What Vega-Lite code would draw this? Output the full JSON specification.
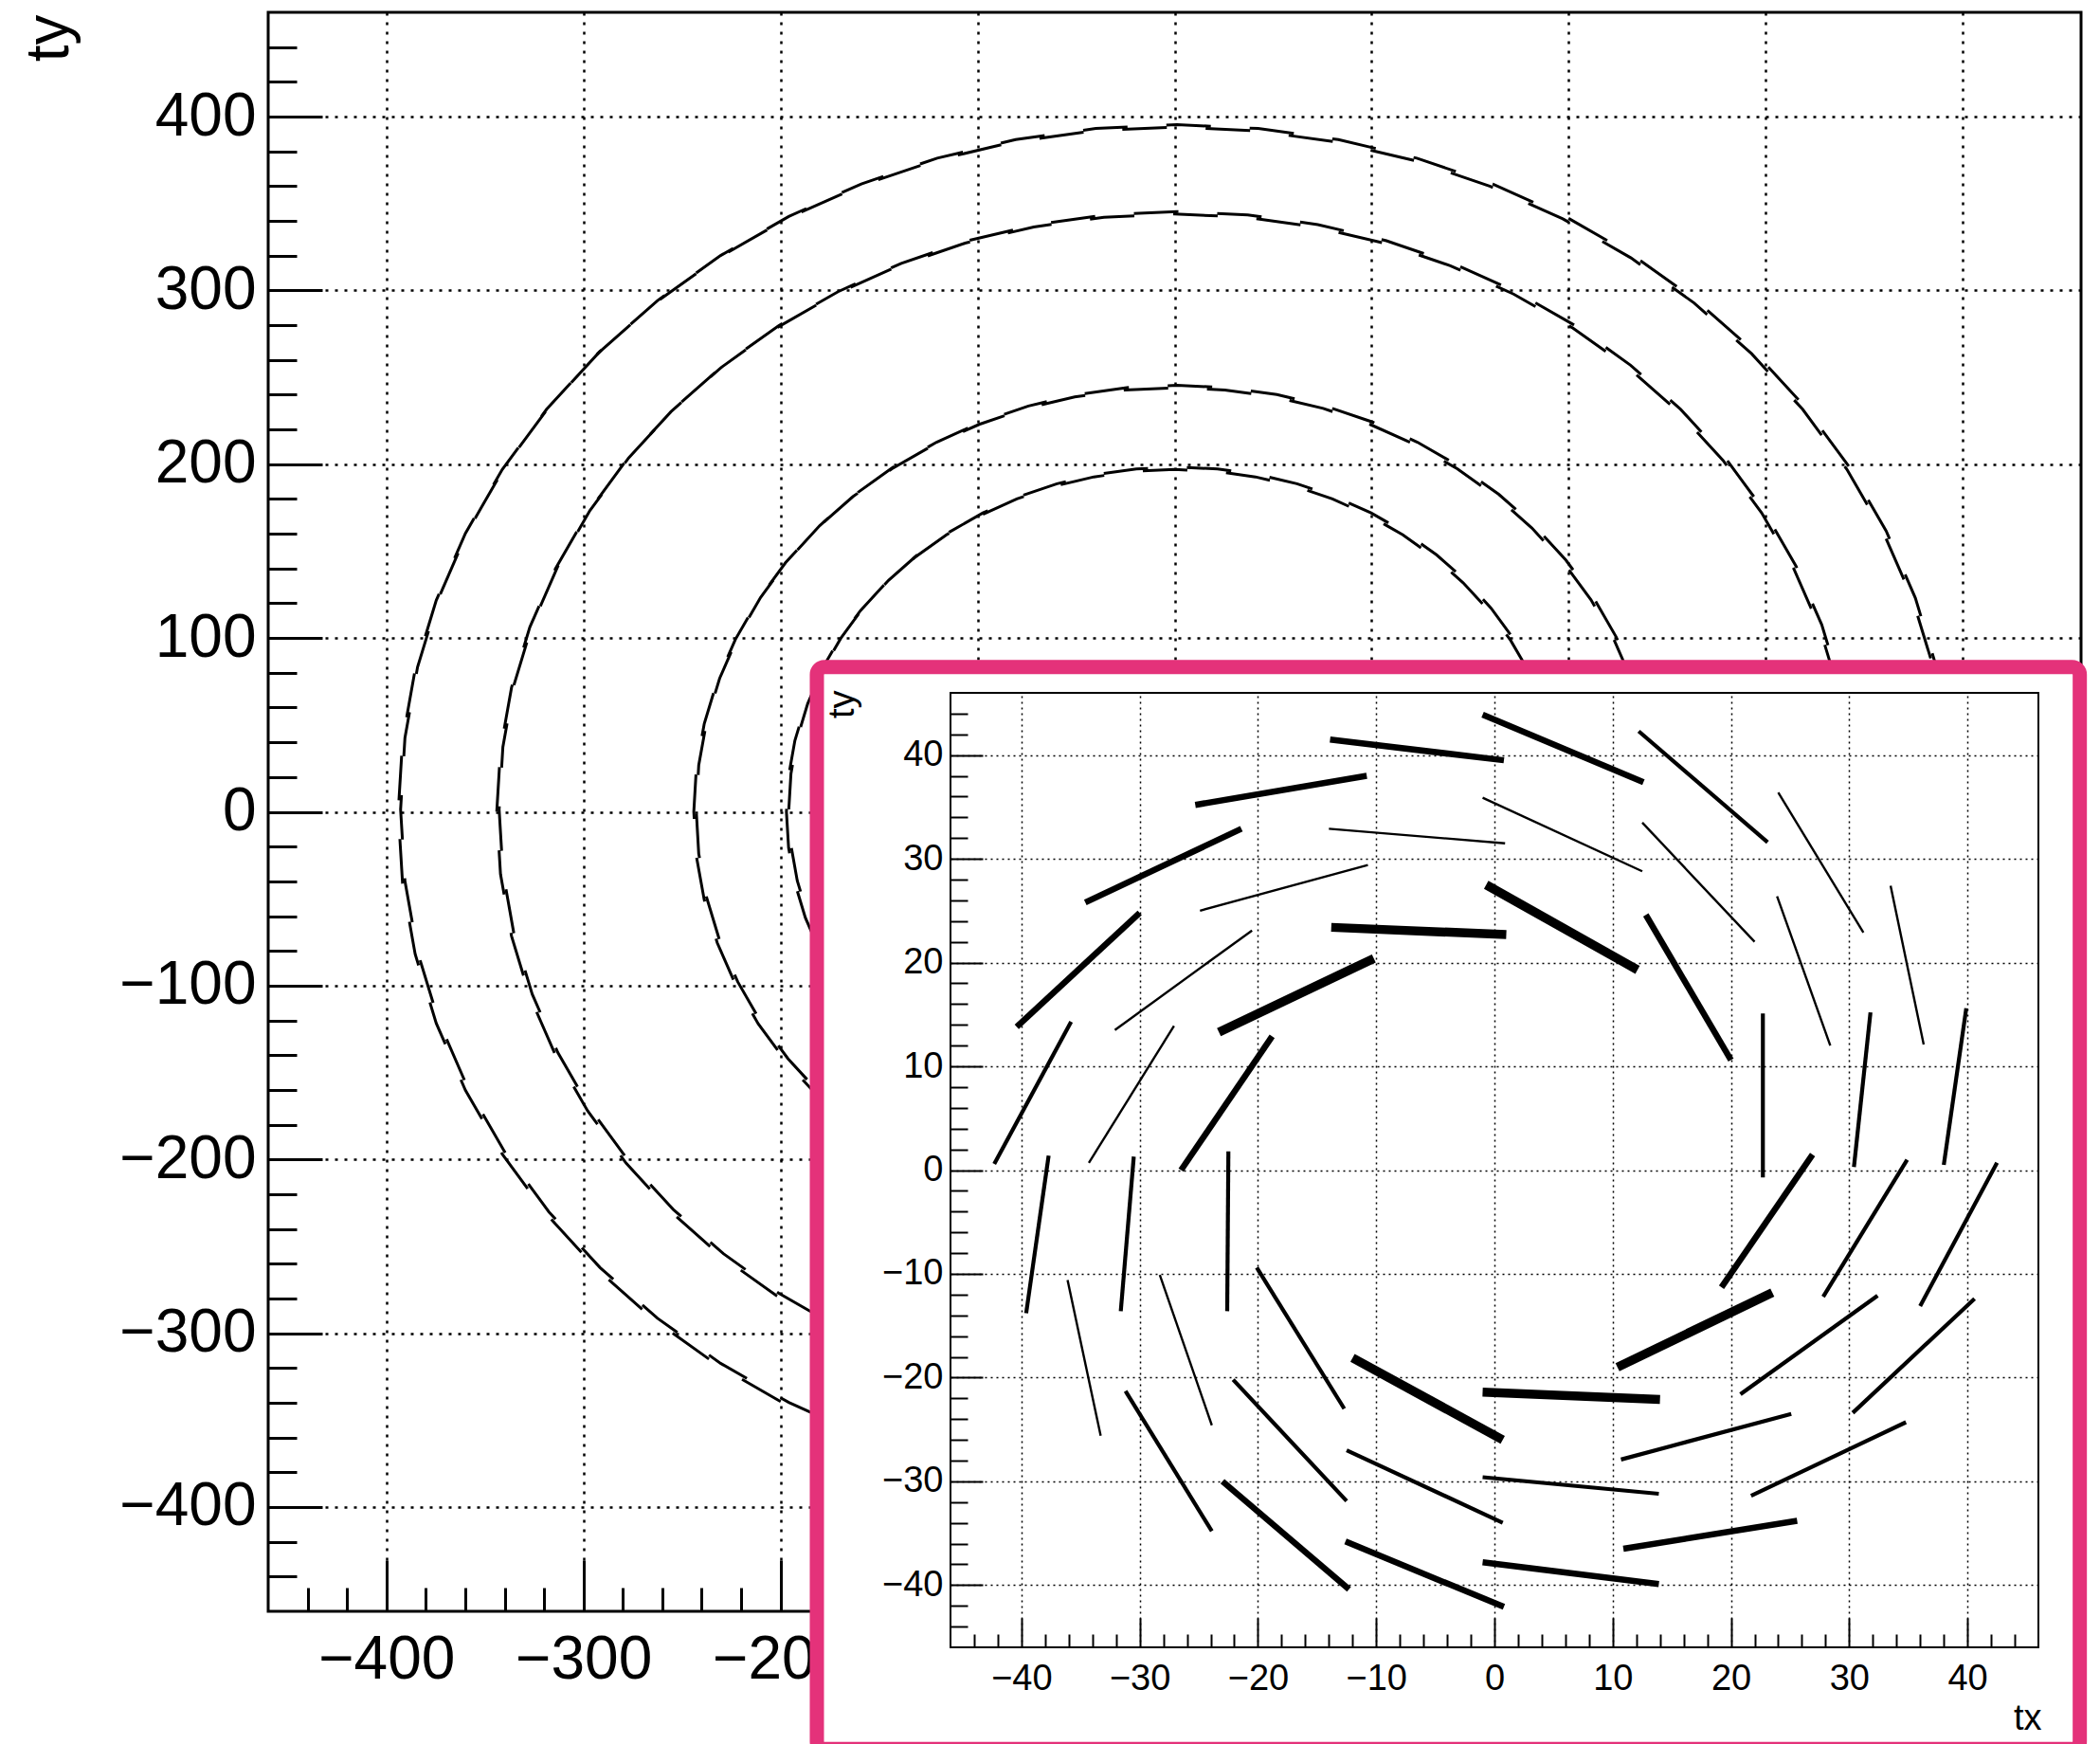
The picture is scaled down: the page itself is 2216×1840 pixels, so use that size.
{
  "$schema": "https://vega.github.io/schema/vega-lite/v6.json",
  "width": 1913,
  "height": 1687,
  "autosize": "none",
  "padding": {"left": 283, "top": 13, "right": 20, "bottom": 140},
  "background": "white",
  "config": {
    "view": {"stroke": "black", "strokeWidth": 3},
    "font": "Liberation Sans, Arial, Helvetica, sans-serif",
    "axis": {"domain": false, "labelColor": "black", "titleColor": "black", "tickColor": "black", "gridColor": "black", "labelOverlap": false, "labelFlush": false, "labelFont": "Liberation Sans, Arial, Helvetica, sans-serif", "titleFont": "Liberation Sans, Arial, Helvetica, sans-serif", "titleFontWeight": "normal"}
  },
  "datasets": {
    "rings": [
      {"ring": 1, "deg": 6, "x": 391.8, "y": 41.2}, {"ring": 1, "deg": 12, "x": 385.4, "y": 81.9}, {"ring": 1, "deg": 18, "x": 374.7, "y": 121.7}, {"ring": 1, "deg": 24, "x": 359.9, "y": 160.2}, {"ring": 1, "deg": 30, "x": 341.2, "y": 197.0}, {"ring": 1, "deg": 36, "x": 318.7, "y": 231.6}, {"ring": 1, "deg": 42, "x": 292.8, "y": 263.6}, {"ring": 1, "deg": 48, "x": 263.6, "y": 292.8}, {"ring": 1, "deg": 54, "x": 231.6, "y": 318.7}, {"ring": 1, "deg": 60, "x": 197.0, "y": 341.2}, {"ring": 1, "deg": 66, "x": 160.2, "y": 359.9}, {"ring": 1, "deg": 72, "x": 121.7, "y": 374.7}, {"ring": 1, "deg": 78, "x": 81.9, "y": 385.4}, {"ring": 1, "deg": 84, "x": 41.2, "y": 391.8}, {"ring": 1, "deg": 90, "x": 0, "y": 394}, {"ring": 1, "deg": 96, "x": -41.2, "y": 391.8}, {"ring": 1, "deg": 102, "x": -81.9, "y": 385.4}, {"ring": 1, "deg": 108, "x": -121.7, "y": 374.7}, {"ring": 1, "deg": 114, "x": -160.2, "y": 359.9}, {"ring": 1, "deg": 120, "x": -197.0, "y": 341.2}, {"ring": 1, "deg": 126, "x": -231.6, "y": 318.7}, {"ring": 1, "deg": 132, "x": -263.6, "y": 292.8}, {"ring": 1, "deg": 138, "x": -292.8, "y": 263.6}, {"ring": 1, "deg": 144, "x": -318.7, "y": 231.6}, {"ring": 1, "deg": 150, "x": -341.2, "y": 197.0}, {"ring": 1, "deg": 156, "x": -359.9, "y": 160.2}, {"ring": 1, "deg": 162, "x": -374.7, "y": 121.7}, {"ring": 1, "deg": 168, "x": -385.4, "y": 81.9}, {"ring": 1, "deg": 174, "x": -391.8, "y": 41.2}, {"ring": 1, "deg": 180, "x": -394, "y": 0}, {"ring": 1, "deg": 186, "x": -391.8, "y": -41.2}, {"ring": 1, "deg": 192, "x": -385.4, "y": -81.9}, {"ring": 1, "deg": 198, "x": -374.7, "y": -121.7}, {"ring": 1, "deg": 204, "x": -359.9, "y": -160.2}, {"ring": 1, "deg": 210, "x": -341.2, "y": -197.0}, {"ring": 1, "deg": 216, "x": -318.7, "y": -231.6}, {"ring": 1, "deg": 222, "x": -292.8, "y": -263.6}, {"ring": 1, "deg": 228, "x": -263.6, "y": -292.8}, {"ring": 1, "deg": 234, "x": -231.6, "y": -318.7}, {"ring": 1, "deg": 240, "x": -197.0, "y": -341.2}, {"ring": 1, "deg": 246, "x": -160.2, "y": -359.9}, {"ring": 1, "deg": 252, "x": -121.7, "y": -374.7},
      {"ring": 2, "deg": 12, "x": 336.5, "y": 71.5}, {"ring": 2, "deg": 18, "x": 327.2, "y": 106.3}, {"ring": 2, "deg": 24, "x": 314.2, "y": 139.9}, {"ring": 2, "deg": 30, "x": 297.9, "y": 172.0}, {"ring": 2, "deg": 36, "x": 278.3, "y": 202.2}, {"ring": 2, "deg": 42, "x": 255.6, "y": 230.2}, {"ring": 2, "deg": 48, "x": 230.2, "y": 255.6}, {"ring": 2, "deg": 54, "x": 202.2, "y": 278.3}, {"ring": 2, "deg": 60, "x": 172.0, "y": 297.9}, {"ring": 2, "deg": 66, "x": 139.9, "y": 314.2}, {"ring": 2, "deg": 72, "x": 106.3, "y": 327.2}, {"ring": 2, "deg": 78, "x": 71.5, "y": 336.5}, {"ring": 2, "deg": 84, "x": 35.9, "y": 342.1}, {"ring": 2, "deg": 90, "x": 0, "y": 344}, {"ring": 2, "deg": 96, "x": -35.9, "y": 342.1}, {"ring": 2, "deg": 102, "x": -71.5, "y": 336.5}, {"ring": 2, "deg": 108, "x": -106.3, "y": 327.2}, {"ring": 2, "deg": 114, "x": -139.9, "y": 314.2}, {"ring": 2, "deg": 120, "x": -172.0, "y": 297.9}, {"ring": 2, "deg": 126, "x": -202.2, "y": 278.3}, {"ring": 2, "deg": 132, "x": -230.2, "y": 255.6}, {"ring": 2, "deg": 138, "x": -255.6, "y": 230.2}, {"ring": 2, "deg": 144, "x": -278.3, "y": 202.2}, {"ring": 2, "deg": 150, "x": -297.9, "y": 172.0}, {"ring": 2, "deg": 156, "x": -314.2, "y": 139.9}, {"ring": 2, "deg": 162, "x": -327.2, "y": 106.3}, {"ring": 2, "deg": 168, "x": -336.5, "y": 71.5}, {"ring": 2, "deg": 174, "x": -342.1, "y": 35.9}, {"ring": 2, "deg": 180, "x": -344, "y": 0}, {"ring": 2, "deg": 186, "x": -342.1, "y": -35.9}, {"ring": 2, "deg": 192, "x": -336.5, "y": -71.5}, {"ring": 2, "deg": 198, "x": -327.2, "y": -106.3}, {"ring": 2, "deg": 204, "x": -314.2, "y": -139.9}, {"ring": 2, "deg": 210, "x": -297.9, "y": -172.0}, {"ring": 2, "deg": 216, "x": -278.3, "y": -202.2}, {"ring": 2, "deg": 222, "x": -255.6, "y": -230.2}, {"ring": 2, "deg": 228, "x": -230.2, "y": -255.6}, {"ring": 2, "deg": 234, "x": -202.2, "y": -278.3}, {"ring": 2, "deg": 240, "x": -172.0, "y": -297.9}, {"ring": 2, "deg": 246, "x": -139.9, "y": -314.2},
      {"ring": 3, "deg": 18, "x": 232.1, "y": 75.4}, {"ring": 3, "deg": 24, "x": 222.9, "y": 99.2}, {"ring": 3, "deg": 30, "x": 211.3, "y": 122.0}, {"ring": 3, "deg": 36, "x": 197.4, "y": 143.4}, {"ring": 3, "deg": 42, "x": 181.3, "y": 163.3}, {"ring": 3, "deg": 48, "x": 163.3, "y": 181.3}, {"ring": 3, "deg": 54, "x": 143.4, "y": 197.4}, {"ring": 3, "deg": 60, "x": 122.0, "y": 211.3}, {"ring": 3, "deg": 66, "x": 99.2, "y": 222.9}, {"ring": 3, "deg": 72, "x": 75.4, "y": 232.1}, {"ring": 3, "deg": 78, "x": 50.7, "y": 238.7}, {"ring": 3, "deg": 84, "x": 25.5, "y": 242.7}, {"ring": 3, "deg": 90, "x": 0, "y": 244}, {"ring": 3, "deg": 96, "x": -25.5, "y": 242.7}, {"ring": 3, "deg": 102, "x": -50.7, "y": 238.7}, {"ring": 3, "deg": 108, "x": -75.4, "y": 232.1}, {"ring": 3, "deg": 114, "x": -99.2, "y": 222.9}, {"ring": 3, "deg": 120, "x": -122.0, "y": 211.3}, {"ring": 3, "deg": 126, "x": -143.4, "y": 197.4}, {"ring": 3, "deg": 132, "x": -163.3, "y": 181.3}, {"ring": 3, "deg": 138, "x": -181.3, "y": 163.3}, {"ring": 3, "deg": 144, "x": -197.4, "y": 143.4}, {"ring": 3, "deg": 150, "x": -211.3, "y": 122.0}, {"ring": 3, "deg": 156, "x": -222.9, "y": 99.2}, {"ring": 3, "deg": 162, "x": -232.1, "y": 75.4}, {"ring": 3, "deg": 168, "x": -238.7, "y": 50.7}, {"ring": 3, "deg": 174, "x": -242.7, "y": 25.5}, {"ring": 3, "deg": 180, "x": -244, "y": 0}, {"ring": 3, "deg": 186, "x": -242.7, "y": -25.5}, {"ring": 3, "deg": 192, "x": -238.7, "y": -50.7}, {"ring": 3, "deg": 198, "x": -232.1, "y": -75.4}, {"ring": 3, "deg": 204, "x": -222.9, "y": -99.2}, {"ring": 3, "deg": 210, "x": -211.3, "y": -122.0}, {"ring": 3, "deg": 216, "x": -197.4, "y": -143.4}, {"ring": 3, "deg": 222, "x": -181.3, "y": -163.3}, {"ring": 3, "deg": 228, "x": -163.3, "y": -181.3},
      {"ring": 4, "deg": 24, "x": 180.0, "y": 80.1}, {"ring": 4, "deg": 30, "x": 170.6, "y": 98.5}, {"ring": 4, "deg": 36, "x": 159.4, "y": 115.8}, {"ring": 4, "deg": 42, "x": 146.4, "y": 131.8}, {"ring": 4, "deg": 48, "x": 131.8, "y": 146.4}, {"ring": 4, "deg": 54, "x": 115.8, "y": 159.4}, {"ring": 4, "deg": 60, "x": 98.5, "y": 170.6}, {"ring": 4, "deg": 66, "x": 80.1, "y": 180.0}, {"ring": 4, "deg": 72, "x": 60.9, "y": 187.4}, {"ring": 4, "deg": 78, "x": 41.0, "y": 192.7}, {"ring": 4, "deg": 84, "x": 20.6, "y": 195.9}, {"ring": 4, "deg": 90, "x": 0, "y": 197}, {"ring": 4, "deg": 96, "x": -20.6, "y": 195.9}, {"ring": 4, "deg": 102, "x": -41.0, "y": 192.7}, {"ring": 4, "deg": 108, "x": -60.9, "y": 187.4}, {"ring": 4, "deg": 114, "x": -80.1, "y": 180.0}, {"ring": 4, "deg": 120, "x": -98.5, "y": 170.6}, {"ring": 4, "deg": 126, "x": -115.8, "y": 159.4}, {"ring": 4, "deg": 132, "x": -131.8, "y": 146.4}, {"ring": 4, "deg": 138, "x": -146.4, "y": 131.8}, {"ring": 4, "deg": 144, "x": -159.4, "y": 115.8}, {"ring": 4, "deg": 150, "x": -170.6, "y": 98.5}, {"ring": 4, "deg": 156, "x": -180.0, "y": 80.1}, {"ring": 4, "deg": 162, "x": -187.4, "y": 60.9}, {"ring": 4, "deg": 168, "x": -192.7, "y": 41.0}, {"ring": 4, "deg": 174, "x": -195.9, "y": 20.6}, {"ring": 4, "deg": 180, "x": -197, "y": 0}, {"ring": 4, "deg": 186, "x": -195.9, "y": -20.6}, {"ring": 4, "deg": 192, "x": -192.7, "y": -41.0}, {"ring": 4, "deg": 198, "x": -187.4, "y": -60.9}, {"ring": 4, "deg": 204, "x": -180.0, "y": -80.1}, {"ring": 4, "deg": 210, "x": -170.6, "y": -98.5}
    ],
    "tracks": [
      {"x1": -13.9, "y1": 41.5, "x2": 0.8, "y2": 39.5, "density": 3},
      {"x1": -1.0, "y1": 43.9, "x2": 12.6, "y2": 37.4, "density": 3},
      {"x1": 12.2, "y1": 42.3, "x2": 23.1, "y2": 31.6, "density": 2},
      {"x1": 24.0, "y1": 36.4, "x2": 31.2, "y2": 22.9, "density": 1},
      {"x1": 33.5, "y1": 27.4, "x2": 36.3, "y2": 12.1, "density": 1},
      {"x1": 39.9, "y1": 15.6, "x2": 38.0, "y2": 0.5, "density": 2},
      {"x1": 42.5, "y1": 0.7, "x2": 36.0, "y2": -13.1, "density": 2},
      {"x1": 40.6, "y1": -12.4, "x2": 30.3, "y2": -23.4, "density": 2},
      {"x1": 34.8, "y1": -24.3, "x2": 21.7, "y2": -31.4, "density": 2},
      {"x1": 25.6, "y1": -33.8, "x2": 10.9, "y2": -36.5, "density": 3},
      {"x1": 13.9, "y1": -39.9, "x2": -1.0, "y2": -37.8, "density": 3},
      {"x1": 0.8, "y1": -42.1, "x2": -12.6, "y2": -35.8, "density": 3},
      {"x1": -12.3, "y1": -40.4, "x2": -23.0, "y2": -30.0, "density": 3},
      {"x1": -23.9, "y1": -34.8, "x2": -31.2, "y2": -21.3, "density": 2},
      {"x1": -33.3, "y1": -25.6, "x2": -36.1, "y2": -10.6, "density": 1},
      {"x1": -39.6, "y1": -13.8, "x2": -37.7, "y2": 1.4, "density": 2},
      {"x1": -42.3, "y1": 0.6, "x2": -35.8, "y2": 14.3, "density": 2},
      {"x1": -40.4, "y1": 13.8, "x2": -30.0, "y2": 24.8, "density": 3},
      {"x1": -34.6, "y1": 25.8, "x2": -21.4, "y2": 32.9, "density": 3},
      {"x1": -25.3, "y1": 35.2, "x2": -10.8, "y2": 38.0, "density": 3},
      {"x1": -14.0, "y1": 32.9, "x2": 0.9, "y2": 31.5, "density": 1},
      {"x1": -1.0, "y1": 35.9, "x2": 12.5, "y2": 28.8, "density": 1},
      {"x1": 12.5, "y1": 33.5, "x2": 22.0, "y2": 22.0, "density": 1},
      {"x1": 23.9, "y1": 26.4, "x2": 28.4, "y2": 12.0, "density": 1},
      {"x1": 31.8, "y1": 15.2, "x2": 30.4, "y2": 0.3, "density": 2},
      {"x1": 34.9, "y1": 1.0, "x2": 27.8, "y2": -12.2, "density": 2},
      {"x1": 32.4, "y1": -12.1, "x2": 20.8, "y2": -21.6, "density": 2},
      {"x1": 25.1, "y1": -23.5, "x2": 10.7, "y2": -27.9, "density": 2},
      {"x1": 13.9, "y1": -31.2, "x2": -1.0, "y2": -29.6, "density": 2},
      {"x1": 0.7, "y1": -34.0, "x2": -12.5, "y2": -27.0, "density": 2},
      {"x1": -12.5, "y1": -31.9, "x2": -22.1, "y2": -20.2, "density": 2},
      {"x1": -23.9, "y1": -24.6, "x2": -28.3, "y2": -10.1, "density": 1},
      {"x1": -31.6, "y1": -13.6, "x2": -30.5, "y2": 1.3, "density": 2},
      {"x1": -34.3, "y1": 0.7, "x2": -27.1, "y2": 13.9, "density": 1},
      {"x1": -32.1, "y1": 13.5, "x2": -20.5, "y2": 23.1, "density": 1},
      {"x1": -24.9, "y1": 25.0, "x2": -10.7, "y2": 29.4, "density": 1},
      {"x1": -13.8, "y1": 23.4, "x2": 1.0, "y2": 22.7, "density": 4},
      {"x1": -0.7, "y1": 27.5, "x2": 12.1, "y2": 19.3, "density": 4},
      {"x1": 12.8, "y1": 24.6, "x2": 20.0, "y2": 10.6, "density": 3},
      {"x1": 22.7, "y1": 15.1, "x2": 22.7, "y2": -0.7, "density": 2},
      {"x1": 26.9, "y1": 1.5, "x2": 19.2, "y2": -11.3, "density": 3},
      {"x1": 23.5, "y1": -11.8, "x2": 10.4, "y2": -19.0, "density": 4},
      {"x1": 14.0, "y1": -22.1, "x2": -1.0, "y2": -21.4, "density": 4},
      {"x1": 0.7, "y1": -26.0, "x2": -12.0, "y2": -18.1, "density": 4},
      {"x1": -12.7, "y1": -23.0, "x2": -20.1, "y2": -9.4, "density": 2},
      {"x1": -22.6, "y1": -13.6, "x2": -22.5, "y2": 1.8, "density": 2},
      {"x1": -26.5, "y1": 0.0, "x2": -18.8, "y2": 12.9, "density": 3},
      {"x1": -23.3, "y1": 13.3, "x2": -10.2, "y2": 20.4, "density": 4}
    ],
    "pad": [{"x1": -57.3, "x2": 49.5, "y1": -55.8, "y2": 48.5}],
    "frame": [{"x1": -46, "x2": 46, "y1": -46, "y2": 46}]
  },
  "layer": [
    {
      "data": {"name": "rings"},
      "layer": [
        {
          "mark": {"type": "line", "color": "black", "strokeWidth": 3, "strokeDash": [47, 41], "strokeCap": "butt"},
          "encoding": {
            "x": {"field": "x", "type": "quantitative", "scale": {"domain": [-460, 460], "nice": false, "zero": false},
                  "axis": {"orient": "bottom", "values": [-400, -300, -200, -100, 0, 100, 200, 300, 400], "labelExpr": "datum.value <= -200 ? datum.label : ''", "grid": true, "gridDash": [3, 7], "gridWidth": 2.5, "ticks": false, "labelFontSize": 64, "labelPadding": 19, "title": null}},
            "y": {"field": "y", "type": "quantitative", "scale": {"domain": [-460, 460], "nice": false, "zero": false},
                  "axis": {"orient": "left", "values": [-400, -300, -200, -100, 0, 100, 200, 300, 400], "grid": true, "gridDash": [3, 7], "gridWidth": 2.5, "ticks": false, "labelFontSize": 64, "labelPadding": 13, "title": "ty", "titleFontSize": 64, "titleAngle": 270, "titleAlign": "right", "titleBaseline": "alphabetic", "titleX": -212, "titleY": 2}},
            "detail": {"field": "ring", "type": "nominal"},
            "order": {"field": "deg", "type": "quantitative"}
          }
        },
        {
          "mark": {"type": "line", "color": "black", "strokeWidth": 3, "strokeDash": [47, 41], "strokeDashOffset": 44, "strokeCap": "butt", "xOffset": 2.5, "yOffset": -2.5},
          "encoding": {
            "x": {"field": "x", "type": "quantitative", "scale": {"domain": [-460, 460], "nice": false, "zero": false}, "axis": null},
            "y": {"field": "y", "type": "quantitative", "scale": {"domain": [-460, 460], "nice": false, "zero": false}, "axis": null},
            "detail": {"field": "ring", "type": "nominal"},
            "order": {"field": "deg", "type": "quantitative"}
          }
        },
        {
          "mark": {"type": "point", "opacity": 0},
          "encoding": {
            "x": {"field": "x", "type": "quantitative", "scale": {"domain": [-460, 460], "nice": false, "zero": false},
                  "axis": {"orient": "bottom", "values": [-400, -300, -200, -100, 0, 100, 200, 300, 400], "grid": false, "labels": false, "tickSize": -54, "tickWidth": 3, "title": null}},
            "y": {"field": "y", "type": "quantitative", "scale": {"domain": [-460, 460], "nice": false, "zero": false},
                  "axis": {"orient": "left", "values": [-400, -300, -200, -100, 0, 100, 200, 300, 400], "grid": false, "labels": false, "tickSize": -57, "tickWidth": 3, "title": null}}
          }
        },
        {
          "mark": {"type": "point", "opacity": 0},
          "encoding": {
            "x": {"field": "x", "type": "quantitative", "scale": {"domain": [-460, 460], "nice": false, "zero": false},
                  "axis": {"orient": "bottom", "values": [-440, -420, -380, -360, -340, -320, -280, -260, -240, -220, -180, -160, -140, -120, -80, -60, -40, -20, 20, 40, 60, 80, 120, 140, 160, 180, 220, 240, 260, 280, 320, 340, 360, 380, 420, 440], "grid": false, "labels": false, "tickSize": -25, "tickWidth": 3, "title": null}},
            "y": {"field": "y", "type": "quantitative", "scale": {"domain": [-460, 460], "nice": false, "zero": false},
                  "axis": {"orient": "left", "values": [-440, -420, -380, -360, -340, -320, -280, -260, -240, -220, -180, -160, -140, -120, -80, -60, -40, -20, 20, 40, 60, 80, 120, 140, 160, 180, 220, 240, 260, 280, 320, 340, 360, 380, 420, 440], "grid": false, "labels": false, "tickSize": -30, "tickWidth": 3, "title": null}}
          }
        }
      ],
      "resolve": {"axis": {"x": "independent", "y": "independent"}}
    },
    {
      "layer": [
        {
          "data": {"name": "pad"},
          "mark": {"type": "rect", "fill": "white", "stroke": "#e4327a", "strokeWidth": 15, "cornerRadius": 8},
          "encoding": {
            "x": {"field": "x1", "type": "quantitative", "scale": {"domain": [-46, 46], "range": [720, 1868], "nice": false, "zero": false},
                  "axis": {"orient": "top", "values": [-40, -30, -20, -10, 0, 10, 20, 30, 40], "grid": true, "gridDash": [2, 4], "gridWidth": 1.5, "labels": false, "ticks": false, "title": null, "zindex": 1}},
            "x2": {"field": "x2"},
            "y": {"field": "y1", "type": "quantitative", "scale": {"domain": [-46, 46], "range": [1725, 718], "nice": false, "zero": false},
                  "axis": {"orient": "left", "offset": -720, "values": [-40, -30, -20, -10, 0, 10, 20, 30, 40], "grid": true, "gridDash": [2, 4], "gridWidth": 1.5, "ticks": false, "labelFontSize": 38, "labelPadding": 8, "title": "ty", "titleFontSize": 38, "titleAngle": 270, "titleAlign": "right", "titleBaseline": "alphabetic", "titleX": -103, "titleY": 715, "zindex": 1}},
            "y2": {"field": "y2"}
          }
        },
        {
          "data": {"name": "frame"},
          "mark": {"type": "rect", "filled": false, "color": "black", "strokeWidth": 2},
          "encoding": {
            "x": {"field": "x1", "type": "quantitative", "scale": {"domain": [-46, 46], "range": [720, 1868], "nice": false, "zero": false},
                  "axis": {"orient": "bottom", "offset": 38, "values": [-40, -30, -20, -10, 0, 10, 20, 30, 40], "grid": false, "ticks": false, "labelFontSize": 38, "labelPadding": 14, "title": "tx", "titleFontSize": 38, "titleAlign": "right", "titleBaseline": "alphabetic", "titleAngle": 0, "titleX": 1871, "titleY": 86, "zindex": 1}},
            "x2": {"field": "x2"},
            "y": {"field": "y1", "type": "quantitative", "scale": {"domain": [-46, 46], "range": [1725, 718], "nice": false, "zero": false},
                  "axis": {"orient": "left", "offset": -720, "values": [-40, -30, -20, -10, 0, 10, 20, 30, 40], "grid": false, "labels": false, "tickSize": -34, "tickWidth": 2, "title": null, "zindex": 1}},
            "y2": {"field": "y2"}
          }
        },
        {
          "data": {"name": "tracks"},
          "mark": {"type": "rule", "color": "black", "strokeCap": "butt"},
          "encoding": {
            "x": {"field": "x1", "type": "quantitative", "scale": {"domain": [-46, 46], "range": [720, 1868], "nice": false, "zero": false},
                  "axis": {"orient": "bottom", "offset": 38, "values": [-40, -30, -20, -10, 0, 10, 20, 30, 40], "grid": false, "labels": false, "tickSize": -31, "tickWidth": 2, "title": null, "zindex": 1}},
            "x2": {"field": "x2"},
            "y": {"field": "y1", "type": "quantitative", "scale": {"domain": [-46, 46], "range": [1725, 718], "nice": false, "zero": false},
                  "axis": {"orient": "left", "offset": -720, "values": [-44, -42, -38, -36, -34, -32, -28, -26, -24, -22, -18, -16, -14, -12, -8, -6, -4, -2, 2, 4, 6, 8, 12, 14, 16, 18, 22, 24, 26, 28, 32, 34, 36, 38, 42, 44], "grid": false, "labels": false, "tickSize": -18, "tickWidth": 2, "title": null, "zindex": 1}},
            "y2": {"field": "y2"},
            "strokeWidth": {"field": "density", "type": "quantitative", "scale": {"domain": [1, 2, 3, 4], "range": [2.4, 4.2, 6.5, 9.5]}, "legend": null}
          }
        },
        {
          "data": {"name": "tracks"},
          "mark": {"type": "point", "opacity": 0},
          "encoding": {
            "x": {"field": "x1", "type": "quantitative", "scale": {"domain": [-46, 46], "range": [720, 1868], "nice": false, "zero": false},
                  "axis": {"orient": "bottom", "offset": 38, "values": [-44, -42, -38, -36, -34, -32, -28, -26, -24, -22, -18, -16, -14, -12, -8, -6, -4, -2, 2, 4, 6, 8, 12, 14, 16, 18, 22, 24, 26, 28, 32, 34, 36, 38, 42, 44], "grid": false, "labels": false, "tickSize": -14, "tickWidth": 2, "title": null, "zindex": 1}},
            "y": {"field": "y1", "type": "quantitative", "scale": {"domain": [-46, 46], "range": [1725, 718], "nice": false, "zero": false}, "axis": null}
          }
        }
      ],
      "resolve": {"axis": {"x": "independent", "y": "independent"}}
    }
  ],
  "resolve": {"scale": {"x": "independent", "y": "independent"}, "axis": {"x": "independent", "y": "independent"}}
}
